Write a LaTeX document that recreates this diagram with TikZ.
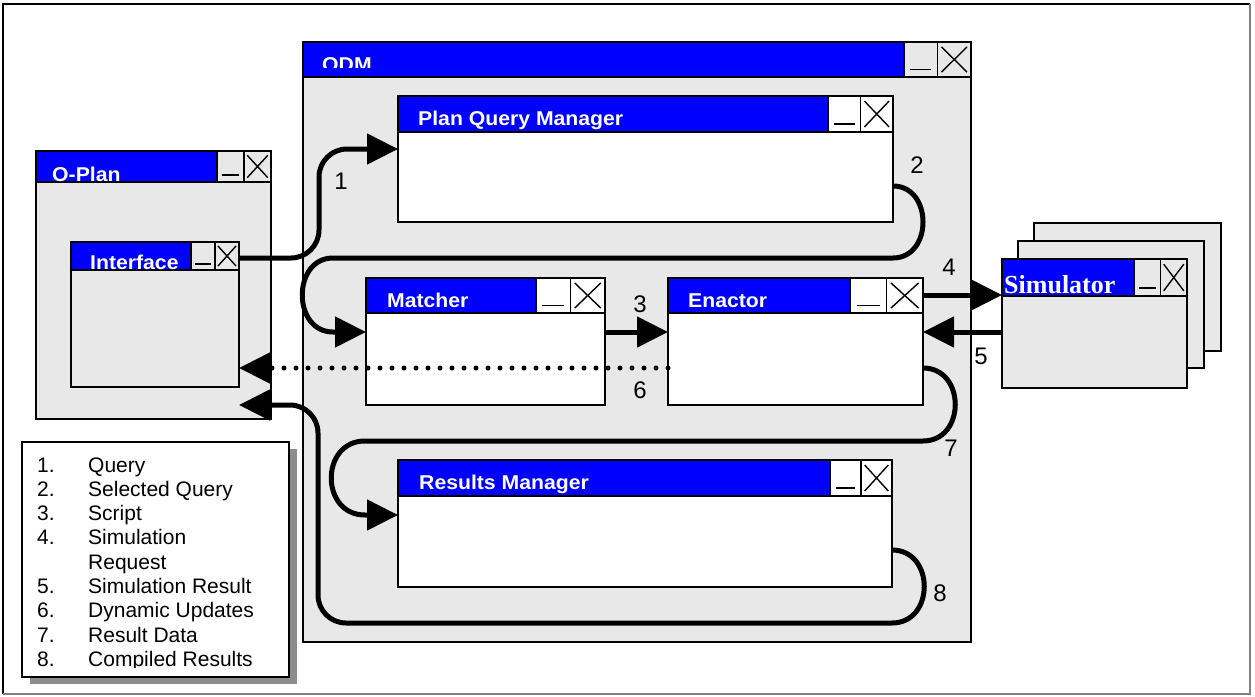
\documentclass[tikz,border=0pt]{standalone}
\usepackage{fontspec}
\setmainfont{Liberation Sans}
\newfontfamily\ttlfont[FakeStretch=1.06]{Liberation Sans}
\newfontfamily\simfont{Liberation Serif}
\usetikzlibrary{arrows.meta}
\definecolor{wgray}{HTML}{E8E8E8}
\definecolor{wblue}{HTML}{0000FF}
\definecolor{shadowgray}{HTML}{8C8C8C}
\tikzset{
 winbox/.style={draw=black, line width=2pt, inner sep=0pt, outer sep=0pt},
 btn/.style={draw=black, line width=1.4pt},
 sym/.style={line width=1.4pt},
 ttl/.style={anchor=base west, inner sep=0pt, text=white, font=\ttlfont\bfseries\fontsize{20}{23}\selectfont},
 lbl/.style={inner sep=0pt, font=\fontsize{24}{28}\selectfont},
 flow/.style={line width=5pt, -{Triangle[length=31pt,width=30pt]}},
 dotflow/.style={line width=5pt, line cap=round, dash pattern=on 0pt off 12pt, -{Triangle[length=31pt,width=30pt]}},
 leg/.style={anchor=base west, inner sep=0pt, font=\fontsize{21}{24}\selectfont},
}
\newcommand\mywin[9]{%
  \node[winbox, fill=#8, minimum width={(#4-#2)*1pt}, minimum height={(#5-#3)*1pt}] (#1) at ({(#2+#4)/2},{(#3+#5)/2}) {};
  \fill[wblue] (#2,#3) rectangle ({#4-2*#7},#6);
  \draw[btn, fill=#8] ({#4-2*#7},#3) rectangle ({#4-#7},#6);
  \draw[btn, fill=#8] ({#4-#7},#3) rectangle (#4,#6);
  \draw[sym] ({#4-1.82*#7},{#3+0.78*(#6-#3)}) -- ({#4-1.18*#7},{#3+0.78*(#6-#3)});
  \draw[sym] ({#4-0.88*#7},{#3+0.14*(#6-#3)}) -- ({#4-0.12*#7},{#6-0.14*(#6-#3)});
  \draw[sym] ({#4-0.88*#7},{#6-0.14*(#6-#3)}) -- ({#4-0.12*#7},{#3+0.14*(#6-#3)});
  \draw[line width=2pt] (#2,#6) -- (#4,#6);
  \begin{scope}\clip (#2,#3) rectangle ({#4-2*#7},#6); #9 \end{scope}
  \draw[line width=2pt] (#2,#3) rectangle (#4,#5);
}
\begin{document}
\begin{tikzpicture}[x=1pt,y=-1pt]
\useasboundingbox (0,0) rectangle (1255,696);
\fill[white] (0,0) rectangle (1255,696);
% outer frame
\draw[line width=2pt, black] (3,694) -- (3,4) -- (1250,4);
\draw[line width=2pt, gray] (1250,4) -- (1250,694) -- (3,694);

% O-Plan and Interface
\mywin{op}{36}{151}{271}{419}{182}{27}{wgray}{\node[ttl] at (52,181) {O-Plan};}
\mywin{intf}{71}{242}{239}{387}{270}{24}{wgray}{\node[ttl] at (90,269.5) {Interface};}

% QDM and its components
\mywin{qdm}{303}{42}{971}{642}{77}{33.5}{wgray}{\clip (303,42) rectangle (904,67); \node[ttl] at (322,71.5) {QDM};}
\mywin{pqm}{398}{96}{893}{222}{132}{32.5}{white}{\node[ttl] at (418,125) {Plan Query Manager};}
\mywin{mat}{366}{278}{605}{405}{313}{34.5}{white}{\node[ttl] at (387,307) {Matcher};}
\mywin{ena}{668}{278}{923}{405}{313}{36.5}{white}{\node[ttl] at (688,307) {Enactor};}
\mywin{rm}{398}{460}{892}{587}{496}{31}{white}{\node[ttl] at (419,489) {Results Manager};}

% Simulator stack
\node[winbox, fill=wgray, minimum width=187pt, minimum height=128pt] (sim3) at (1127.5,287) {};
\node[winbox, fill=wgray, minimum width=186pt, minimum height=127pt] (sim2) at (1111,304.5) {};
\mywin{sim}{1002}{259}{1187}{388}{296}{26.5}{wgray}{\node[anchor=base west, inner sep=0pt, text=white, font=\simfont\bfseries\fontsize{26}{30}\selectfont] at (1004,293) {Simulator};}

% connectors
\draw[flow, rounded corners=28pt] ([yshift=-16pt]intf.north east) -| (319,149) -- ([yshift=-53pt]pqm.north west);
\draw[flow] ([yshift=-90pt]pqm.north east) .. controls (933,186) and (933,258) .. (893,258) -- (333,258) .. controls (292,258) and (292,332) .. (333,332) -- ([yshift=-54pt]mat.north west);
\draw[flow] ([yshift=-54pt]mat.north east) -- ([yshift=-54pt]ena.north west);
\draw[flow] ([yshift=-17pt]ena.north east) -- ([yshift=-36pt]sim.north west);
\draw[flow] ([yshift=-73pt]sim.north west) -- ([yshift=-54pt]ena.north east);
\draw[dotflow] ([yshift=-90pt]ena.north west) -- ([yshift=-126pt]intf.north east);
\draw[flow] ([yshift=-90pt]ena.north east) .. controls (966,368) and (966,441) .. (923,441) -- (365,441) .. controls (320,441) and (320,515) .. (365,515) -- ([yshift=-55pt]rm.north west);
\draw[flow] ([yshift=-90pt]rm.north east) .. controls (935,550) and (935,623) .. (892,623) [rounded corners=28pt] -| (318,405) -- ([yshift=-18pt]intf.south east);

% labels
\node[lbl] (l1) at (341,181) {1};
\node[lbl] (l2) at (917,165) {2};
\node[lbl] (l3) at (640,304) {3};
\node[lbl] (l4) at (949,267) {4};
\node[lbl] (l5) at (981,356) {5};
\node[lbl] (l6) at (640,390) {6};
\node[lbl] (l7) at (951,448) {7};
\node[lbl] (l8) at (940,593) {8};

% legend
\fill[shadowgray] (30,449) rectangle (297,684);
\node[draw=black, line width=2pt, fill=white, minimum width=267pt, minimum height=235pt, inner sep=0pt] (legend) at (155.5,559.5) {};
\begin{scope}
\clip (22,442) rectangle (289,667);
\foreach \n/\t/\yy in {1./Query/472, 2./Selected Query/496.3, 3./Script/520.6, 4./Simulation/544.9, 5./Simulation Result/593.5, 6./Dynamic Updates/617.8, 7./Result Data/642.1, 8./Compiled Results/666.4}{
  \node[leg] at (37,\yy) {\n};
  \node[leg] at (88,\yy) {\t};
}
\node[leg] at (88,569.2) {Request};
\end{scope}
\end{tikzpicture}
\end{document}
